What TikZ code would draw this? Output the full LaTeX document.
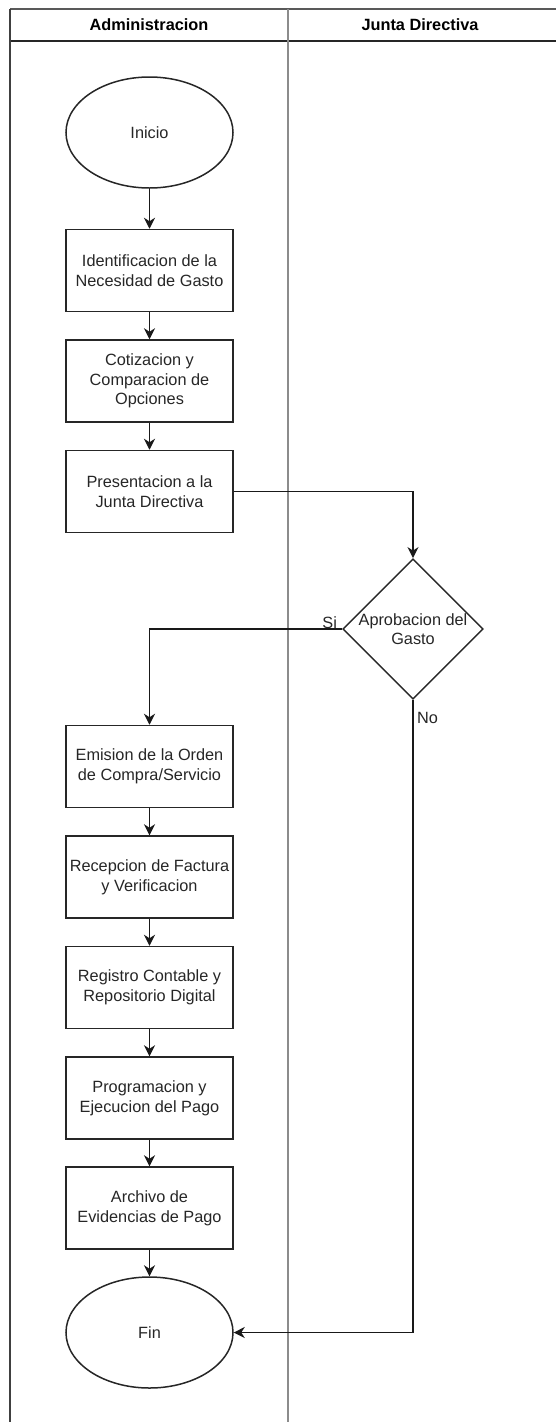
\documentclass[tikz,border=0pt]{standalone}
\usepackage{fontspec}
\setmainfont{Liberation Sans}
\usetikzlibrary{shapes.geometric,arrows.meta}
\tikzset{
  lbl/.style={font=\fontsize{16.3}{19.6}\selectfont, text=black!85},
  proc/.style={draw=black!85, line width=1.5pt, minimum width=167pt, minimum height=82pt,
    inner sep=0pt, align=center, lbl},
  term/.style={draw=black!85, line width=1.5pt, ellipse, minimum width=167pt, minimum height=111pt,
    inner sep=0pt, align=center, lbl},
  decision/.style={draw=black!85, line width=1.5pt, diamond, minimum width=139pt, minimum height=138pt,
    inner sep=0pt, align=center, lbl},
  flow/.style={draw=black!90, line width=1.6pt, -{Stealth[length=11pt,width=11pt,inset=3.5pt]}},
  lane/.style={line width=1.6pt},
  head/.style={font=\bfseries\fontsize{16.3}{19.6}\selectfont}
}
\begin{document}
\begin{tikzpicture}[x=1pt,y=-1pt]
\useasboundingbox (0,0) rectangle (556,1422);
% swimlane frame
\draw[lane, draw=black!65] (10,9) -- (556,9);
\draw[lane, draw=black!85] (10,41) -- (556,41);
\draw[lane, draw=black!75] (10,9) -- (10,1422);
\draw[lane, draw=black!45] (288,9) -- (288,1422);
\node[head] (hadm) at (149,25) {Administracion};
\node[head] (hjun) at (420,25) {Junta Directiva};

% steps
\node[term] (ini) at (149.5,132.5) {Inicio};
\node[proc] (s1) at (149.5,270.5) {Identificacion de la\\Necesidad de Gasto};
\node[proc] (s2) at (149.5,381) {Cotizacion y\\Comparacion de\\Opciones};
\node[proc] (s3) at (149.5,491.5) {Presentacion a la\\Junta Directiva};
\node[decision] (dec) at (413,629) {Aprobacion del\\Gasto};
\node[proc] (s4) at (149.5,766.5) {Emision de la Orden\\de Compra/Servicio};
\node[proc] (s5) at (149.5,877) {Recepcion de Factura\\y Verificacion};
\node[proc] (s6) at (149.5,987.5) {Registro Contable y\\Repositorio Digital};
\node[proc] (s7) at (149.5,1098) {Programacion y\\Ejecucion del Pago};
\node[proc] (s8) at (149.5,1208) {Archivo de\\Evidencias de Pago};
\node[term] (fin) at (149.5,1332.5) {Fin};

% connectors
\draw[flow] (ini) -- (s1);
\draw[flow] (s1) -- (s2);
\draw[flow] (s2) -- (s3);
\draw[flow] (s3.east) -| (dec.north);
\draw[flow] (dec.west) -| (s4.north);
\draw[flow] (dec.south) |- (fin.east);
\draw[flow] (s4) -- (s5);
\draw[flow] (s5) -- (s6);
\draw[flow] (s6) -- (s7);
\draw[flow] (s7) -- (s8);
\draw[flow] (s8) -- (fin);

% branch labels
\node[lbl, anchor=south east, inner sep=1pt] (lsi) at ([xshift=-4pt,yshift=-1pt]dec.west) {Si};
\node[lbl, anchor=north west, inner sep=1pt] (lno) at ([xshift=3pt,yshift=-11pt]dec.south) {No};
\end{tikzpicture}
\end{document}
